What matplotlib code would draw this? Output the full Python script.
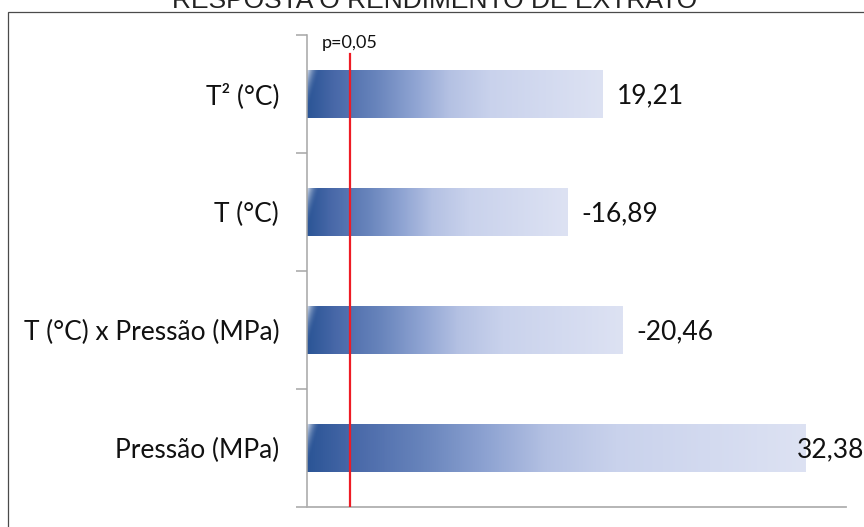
import numpy as np
import matplotlib
matplotlib.use("Agg")
import matplotlib.pyplot as plt
from matplotlib.colors import LinearSegmentedColormap
from matplotlib.patches import Rectangle
from matplotlib.ticker import FixedLocator

# Efeitos padronizados (de cima para baixo)
termos = ["T² (°C)", "T (°C)", "T (°C) x Pressão (MPa)", "Pressão (MPa)"]
efeitos = [19.21, -16.89, -20.46, 32.38]
p_limite = 2.78
titulo = "RESPOSTA O RENDIMENTO DE EXTRATO"

W, H = 864, 527
fig = plt.figure(figsize=(W / 100, H / 100), dpi=100)
ax = fig.add_axes([307 / W, 1 - 507 / H, (846 - 307) / W, (507 - 35) / H])

# degradê azul das barras (escuro -> claro, relativo ao comprimento)
stops = [(0.0, "#2b5596"), (0.09, "#4868a8"), (0.24, "#6a86bd"),
         (0.36, "#8ea3d2"), (0.48, "#b4c1e3"), (0.62, "#c9d2ec"),
         (1.0, "#dde2f3")]
cmap = LinearSegmentedColormap.from_list("barra", stops)

y_pos = np.arange(len(termos))[::-1]
alt = 0.40
ncol, nlin = 500, 60
for y, v in zip(y_pos, efeitos):
    comp = abs(v)
    fx = np.linspace(0, 1, ncol)
    base = cmap(fx)[None, :, :3].repeat(nlin, axis=0)
    # brilho suave no canto superior esquerdo
    dx = fx[None, :] * comp
    dy = np.linspace(0, 1, nlin)[:, None]
    a = np.clip(1 - dx / 0.8 - dy / 0.9, 0, 1) ** 1.8
    a = a[:, :, None] * 0.8
    img = base * (1 - a) + a
    ax.imshow(img, extent=(0, comp, y - alt / 2, y + alt / 2),
              origin="upper", aspect="auto", interpolation="bilinear", zorder=2)
    txt = f"{v:.2f}".replace(".", ",")
    if comp > 30:
        ax.annotate(txt, xy=(1.0, y), xycoords=("figure fraction", "data"),
                    xytext=(0, -1.5), textcoords="offset points",
                    ha="right", va="center", fontsize=19, family="Lato",
                    color="#111111", zorder=4)
    else:
        ax.annotate(txt, xy=(comp, y), xytext=(10, -1.5), textcoords="offset points",
                    ha="left", va="center", fontsize=19, family="Lato",
                    color="#111111", zorder=4)

# linha de significância
ax.plot([p_limite, p_limite], [-0.5, 3.34], color="#ee1c25", lw=1.6, zorder=3)
ax.text(p_limite, 3.39, "p=0,05", ha="center", va="baseline", fontsize=13,
        family="Lato", color="#111111")

ax.set_xlim(0, 35)
ax.set_ylim(-0.5, 3.5)
ax.set_yticks(y_pos)
ax.set_yticklabels(termos, fontsize=19, family="Lato", color="#111111")
ax.yaxis.set_minor_locator(FixedLocator(np.arange(-0.5, 3.6, 1.0)))
ax.tick_params(axis="y", which="major", length=0, pad=20)
ax.tick_params(axis="y", which="minor", length=8, width=1.1, color="#a6a6a6")
ax.set_xticks([])
for s in ["top", "right"]:
    ax.spines[s].set_visible(False)
ax.spines["left"].set_color("#a6a6a6")
ax.spines["bottom"].set_color("#b0b0b0")
ax.spines["left"].set_linewidth(1.1)
ax.spines["bottom"].set_linewidth(1.3)

# título (parcialmente fora da área da figura)
fig.text(435 / W, 1 - 7.5 / H, titulo, ha="center", va="baseline",
         fontsize=19, family="Liberation Sans", color="#222222")

# moldura externa
fig.add_artist(Rectangle((8 / W, -0.1), 2, 1 - 12 / H + 0.1, transform=fig.transFigure,
                         fill=False, ec="#4a4a4a", lw=0.9))

fig.savefig("out.png", dpi=100)
